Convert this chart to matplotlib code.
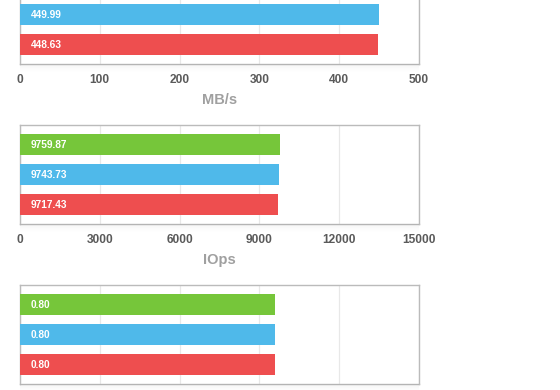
import matplotlib
matplotlib.use("Agg")
import matplotlib.pyplot as plt
import numpy as np

plt.rcParams['font.family'] = ['Liberation Sans', 'DejaVu Sans']

series_colors = ["#76C63A", "#4FB9EA", "#EE4E4F"]  # green, blue, red (top to bottom)

# Panel 1 (throughput) – green bar is cut off at the top of the image
mbs_values = [None, 449.99, 448.63]
mbs_ticks = [0, 100, 200, 300, 400, 500]
# Panel 2 (IOps)
iops_values = [9759.87, 9743.73, 9717.43]
iops_ticks = [0, 3000, 6000, 9000, 12000, 15000]
# Panel 3 (latency)
lat_values = [0.80, 0.80, 0.80]
lat_ticks = [0, 0.25, 0.5, 0.75, 1.0, 1.25]

W, H = 560, 390
fig = plt.figure(figsize=(W / 100, H / 100), dpi=100)

def px_axes(left, top, width, height):
    return fig.add_axes([left / W, (H - top - height) / H, width / W, height / H])

panels = [
    (mbs_values, mbs_ticks, "MB/s", -35, True, "{:.2f}"),
    (iops_values, iops_ticks, "IOps", 125, True, "{:.2f}"),
    (lat_values, lat_ticks, None, 285, False, "{:.2f}"),
]

for values, ticks, label, top, show_ticks, fmt in panels:
    ax = px_axes(20, top, 399, 99)
    # shadow under the panel
    for i in range(8):
        fig.patches.append(plt.Rectangle((20 / W, (H - top - 99 - i - 1) / H), 399 / W, 1 / H,
                                         transform=fig.transFigure, color="#000000",
                                         alpha=0.035 * (1 - i / 8), lw=0, zorder=0))
    positions = [2, 1, 0]
    for pos, val, col in zip(positions, values, series_colors):
        if val is None:
            continue
        ax.barh(pos, val, height=0.667, color=col, zorder=3)
        ax.text(ticks[-1] * 0.027, pos, fmt.format(val), color="white", fontsize=7.3,
                fontweight="bold", va="center", ha="left", zorder=4)
    ax.set_xlim(ticks[0], ticks[-1])
    ax.set_ylim(-0.65, 2.65)
    ax.set_xticks(ticks)
    ax.set_yticks([])
    ax.grid(axis="x", color="#E8E8E8", lw=0.9, zorder=0)
    for s in ax.spines.values():
        s.set_color("#BBBBBB")
        s.set_linewidth(1.0)
    ax.tick_params(axis="x", length=0, pad=7.5, labelsize=8.6, labelcolor="#5A5A5A")
    for t in ax.get_xticklabels():
        t.set_fontweight("bold")
    if not show_ticks:
        ax.set_xticklabels([])
    if label:
        ax.set_xlabel(label, fontsize=10.5, color="#A0A0A0", fontweight="bold", labelpad=5)

fig.savefig("out.png", dpi=100)
